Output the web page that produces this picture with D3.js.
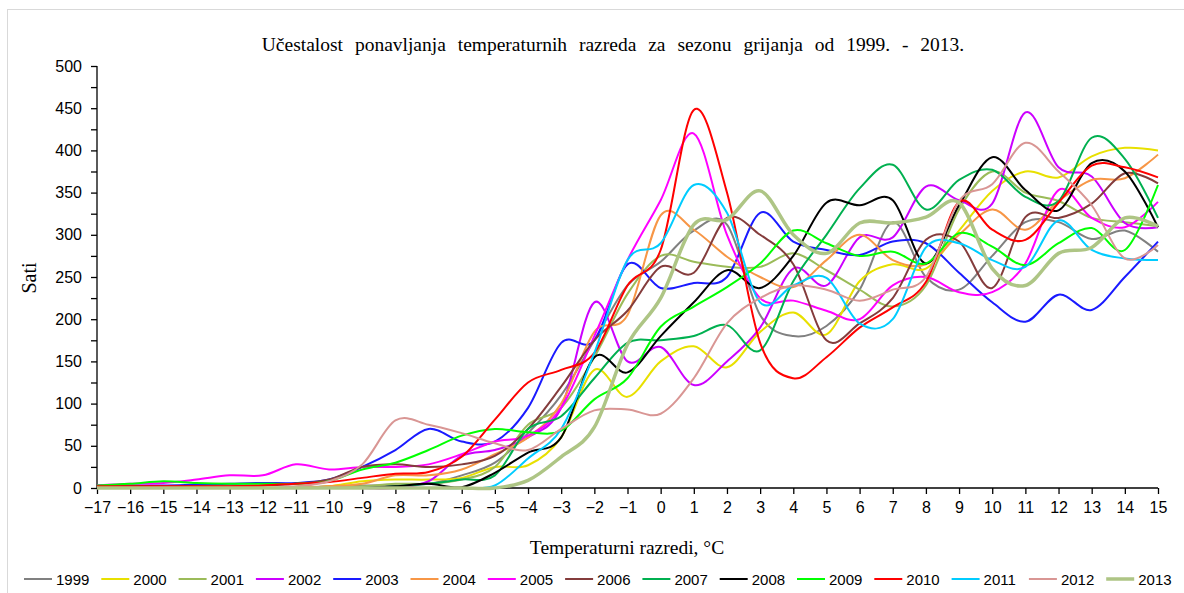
<!DOCTYPE html>
<html>
<head>
<meta charset="utf-8">
<script src="https://cdn.jsdelivr.net/npm/d3@7"></script>
<style>
  body { margin: 0; background: #fff; }
  svg { display: block; }
</style>
</head>
<body>
<svg id="chart" width="1184" height="593"></svg>
<script>
// temperature classes -17 .. 15
var classes = d3.range(-17, 16);
var yTicks = d3.range(0, 501, 25);

var years = ["1999","2000","2001","2002","2003","2004","2005","2006","2007","2008","2009","2010","2011","2012","2013"];
var colors = ["#808080","#e8e000","#9bbb59","#cc00ff","#1a1aff","#f79646","#ff00ff","#843c3c","#00b050","#000000","#00ff00","#ff0000","#00ccff","#d99694","#aec585"];

var s1999 = [0,0,0,0,0,0,0,2,3,3,5,15,30,65,110,175,240,268,305,312,205,180,192,235,315,250,235,275,315,315,295,305,280];
var s2000 = [0,0,0,0,0,0,0,2,8,10,10,12,25,27,60,140,108,150,168,143,185,208,182,245,265,260,305,352,375,368,393,403,400];
var s2001 = [0,0,0,0,0,0,0,0,2,5,5,10,25,75,95,155,230,275,268,262,262,278,258,235,215,240,330,375,350,340,320,315,310];
var s2002 = [0,0,0,0,0,0,0,0,0,0,8,38,45,60,95,220,150,167,122,150,190,260,240,297,297,357,341,337,445,380,369,314,309];
var s2003 = [3,3,3,4,5,6,6,10,25,45,70,55,55,95,172,175,265,237,243,250,326,292,282,276,292,290,255,220,197,229,211,250,292];
var s2004 = [0,0,0,0,0,0,0,2,5,15,15,22,40,60,100,185,205,323,306,274,250,238,270,300,270,265,300,330,306,340,365,367,395];
var s2005 = [3,5,6,10,15,15,28,22,25,25,28,40,55,62,95,180,270,341,420,300,225,222,210,200,240,250,232,232,266,353,320,309,339];
var s2006 = [2,2,2,2,2,3,5,10,25,28,25,28,38,70,120,175,210,262,255,320,300,265,175,195,225,294,292,237,321,320,337,373,361];
var s2007 = [0,0,0,0,0,0,0,0,0,2,5,10,15,70,85,130,172,175,180,193,163,245,300,355,383,330,365,377,345,340,415,390,320];
var s2008 = [0,0,0,0,0,0,0,0,0,2,5,1,18,42,60,155,137,180,220,258,237,275,338,335,341,266,335,392,353,329,385,375,309];
var s2009 = [3,5,8,6,5,5,5,8,22,30,45,62,70,66,68,105,130,191,215,238,266,305,290,275,280,266,302,286,264,290,308,282,359];
var s2010 = [2,2,2,2,2,3,5,7,12,17,19,37,81,125,140,160,240,282,448,350,172,130,155,190,214,244,339,306,294,338,382,380,368];
var s2011 = [0,0,0,0,0,0,0,0,0,0,0,0,3,35,70,160,270,290,359,326,220,240,249,195,200,285,290,270,262,317,282,272,270];
var s2012 = [0,0,0,0,0,0,2,8,28,80,75,65,53,45,70,92,93,88,130,195,225,240,235,222,235,250,340,360,409,375,335,272,288];
var s2013 = [0,0,0,0,0,0,0,0,0,0,0,0,0,9,37,72,170,225,312,318,352,300,278,314,314,321,338,260,240,278,285,320,310];

var series = [s1999,s2000,s2001,s2002,s2003,s2004,s2005,s2006,s2007,s2008,s2009,s2010,s2011,s2012,s2013];

var svg = d3.select("#chart");
var margin = { left: 97, right: 26, top: 66, bottom: 105 };
var width = 1184, height = 593;

// chart frame
svg.append("rect")
  .attr("x", 7.5).attr("y", 9.5)
  .attr("width", 1200).attr("height", 600)
  .attr("fill", "none").attr("stroke", "#d9d9d9").attr("stroke-width", 1);

var x = d3.scaleLinear().domain([-17, 15]).range([margin.left, width - margin.right]);
var y = d3.scaleLinear().domain([0, 500]).range([height - margin.bottom, margin.top]);

svg.append("text")
  .attr("x", 613).attr("y", 51)
  .attr("text-anchor", "middle")
  .style("font-family", "'Liberation Serif', serif")
  .style("font-size", "19.5px")
  .style("word-spacing", "7px")
  .text("Učestalost ponavljanja temperaturnih razreda za sezonu grijanja od 1999. - 2013.");

// y axis with minor ticks
var yAxis = svg.append("g")
  .attr("transform", "translate(" + margin.left + ",0)")
  .call(d3.axisLeft(y).tickValues(yTicks).tickSize(6).tickFormat(function(d) { return d % 50 === 0 ? d : ""; }).tickPadding(9));
yAxis.selectAll("text")
  .style("font-family", "'Liberation Sans', sans-serif")
  .style("font-size", "16px").attr("fill", "#000");
yAxis.selectAll("line,path").attr("stroke", "#000").attr("stroke-width", 1.3);
yAxis.select(".domain").attr("d", "M0," + y(500) + "V" + y(0));

var xAxis = svg.append("g")
  .attr("transform", "translate(0," + y(0) + ")")
  .call(d3.axisBottom(x).tickValues(classes).tickSize(6).tickFormat(d3.format("d")).tickPadding(8));
xAxis.selectAll("text")
  .style("font-family", "'Liberation Sans', sans-serif")
  .style("font-size", "16px").attr("fill", "#000");
xAxis.selectAll("line,path").attr("stroke", "#000").attr("stroke-width", 1.3);
xAxis.select(".domain").attr("d", "M" + x(-17) + ",0H" + x(15));

svg.append("text")
  .attr("transform", "translate(36,278) rotate(-90)")
  .attr("text-anchor", "middle")
  .style("font-family", "'Liberation Serif', serif")
  .style("font-size", "20px")
  .text("Sati");

svg.append("text")
  .attr("x", 627).attr("y", 554)
  .attr("text-anchor", "middle")
  .style("font-family", "'Liberation Serif', serif")
  .style("font-size", "19.5px")
  .text("Temperaturni razredi, °C");

var line = d3.line()
  .x(function(d, i) { return x(classes[i]); })
  .y(function(d) { return y(d); })
  .curve(d3.curveCardinal.tension(0));

svg.append("g")
  .selectAll("path")
  .data(series)
  .enter().append("path")
  .attr("d", line)
  .attr("fill", "none")
  .attr("stroke", function(d, i) { return colors[i]; })
  .attr("stroke-width", function(d, i) { return years[i] === "2013" ? 3.5 : 2; })
  .attr("stroke-linejoin", "round");

// legend
var legend = svg.append("g")
  .selectAll("g")
  .data(years)
  .enter().append("g")
  .attr("transform", function(d, i) { return "translate(" + (24 + i * 77.3) + ",579)"; });

legend.append("line")
  .attr("x1", 0).attr("x2", 28)
  .attr("stroke", function(d, i) { return colors[i]; })
  .attr("stroke-width", function(d) { return d === "2013" ? 3.5 : 2; });

legend.append("text")
  .attr("x", 32).attr("y", 5.5)
  .style("font-family", "'Liberation Sans', sans-serif")
  .style("font-size", "15px")
  .text(function(d) { return d; });
</script>
</body>
</html>
